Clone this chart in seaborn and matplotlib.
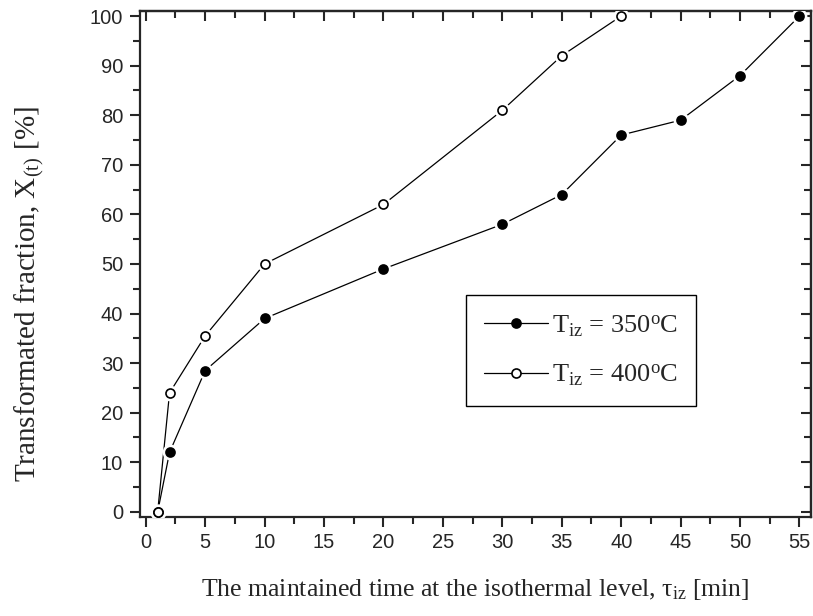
import numpy as np
import pandas as pd
import matplotlib
matplotlib.use('Agg')
import matplotlib.pyplot as plt
import seaborn as sns
from matplotlib.ticker import MultipleLocator
from matplotlib.lines import Line2D

# data
time_350 = [1, 2, 5, 10, 20, 30, 35, 40, 45, 50, 55]
frac_350 = [0, 12, 28.5, 39, 49, 58, 64, 76, 79, 88, 100]
time_400 = [1, 2, 5, 10, 20, 30, 35, 40]
frac_400 = [0, 24, 35.5, 50, 62, 81, 92, 100]
labels = ['$\\mathrm{T_{iz}}$ = 350$^{\\mathrm{o}}$C', '$\\mathrm{T_{iz}}$ = 400$^{\\mathrm{o}}$C']
fills = ['black', 'white']

sns.set_style('ticks')
plt.rcParams['font.family'] = ['Liberation Sans', 'DejaVu Sans']
plt.rcParams['mathtext.fontset'] = 'custom'
plt.rcParams['mathtext.rm'] = 'Liberation Serif'
plt.rcParams['mathtext.it'] = 'Liberation Serif:italic'

dfs = [pd.DataFrame({'t': time_350, 'x': frac_350}),
       pd.DataFrame({'t': time_400, 'x': frac_400})]

fig = plt.figure(figsize=(8.13, 6.16), dpi=100)
ax = fig.add_axes([0.172, 0.161, 0.826, 0.821])

handles = []
for d, fc in zip(dfs, fills):
    # line first, then white halo, then the marker (Origin style gap)
    sns.lineplot(data=d, x='t', y='x', ax=ax, color='black', lw=0.9, zorder=2)
    ax.scatter(d['t'], d['x'], s=130, color='white', zorder=3, linewidths=0)
    sns.lineplot(data=d, x='t', y='x', ax=ax, color='black', linestyle='',
                 marker='o', markersize=6.5, markerfacecolor=fc,
                 markeredgecolor='black', markeredgewidth=1.2, zorder=4)
    handles.append(Line2D([], [], color='black', lw=0.9, marker='o', markersize=6.5,
                          markerfacecolor=fc, markeredgecolor='black', markeredgewidth=1.2))

ax.set_xlim(-0.5, 56)
ax.set_ylim(-1, 101)
ax.xaxis.set_major_locator(MultipleLocator(5))
ax.xaxis.set_minor_locator(MultipleLocator(2.5))
ax.yaxis.set_major_locator(MultipleLocator(10))
ax.yaxis.set_minor_locator(MultipleLocator(5))
ax.tick_params(which='major', direction='out', length=7, width=1.5, labelsize=14.5, pad=5)
ax.tick_params(which='minor', direction='out', length=5, width=1.5)
for s in ax.spines.values():
    s.set_linewidth(1.6)

# inward ticks on top and right
top = ax.secondary_xaxis('top')
top.xaxis.set_major_locator(MultipleLocator(5))
top.xaxis.set_minor_locator(MultipleLocator(2.5))
top.tick_params(which='major', direction='in', length=7, width=1.5, labeltop=False)
top.tick_params(which='minor', direction='in', length=5, width=1.5)
right = ax.secondary_yaxis('right')
right.yaxis.set_major_locator(MultipleLocator(10))
right.yaxis.set_minor_locator(MultipleLocator(5))
right.tick_params(which='major', direction='in', length=7, width=1.5, labelright=False)
right.tick_params(which='minor', direction='in', length=5, width=1.5)
for sec in [top, right]:
    for s in sec.spines.values():
        s.set_linewidth(1.6)

ax.set_xlabel('The maintained time at the isothermal level, $\\mathrm{\\tau_{iz}}$ [min]',
              family='Liberation Serif', fontsize=18.5, labelpad=18)
ax.set_ylabel('Transformated fraction, $\\mathrm{X_{(t)}}$ [%]',
              family='Liberation Serif', fontsize=21)
ax.yaxis.set_label_coords(-0.139, 0.44)

leg = ax.legend(handles, labels, loc='upper left', bbox_to_anchor=(0.4855, 0.439),
                borderaxespad=0, frameon=True, fancybox=False, edgecolor='black',
                handlelength=2.4, handletextpad=0.15, borderpad=0.7, labelspacing=0.9,
                prop={'family': 'Liberation Serif', 'size': 19})
leg.get_frame().set_linewidth(1.0)
leg.get_frame().set_alpha(1)

fig.savefig('out.png', dpi=100)
